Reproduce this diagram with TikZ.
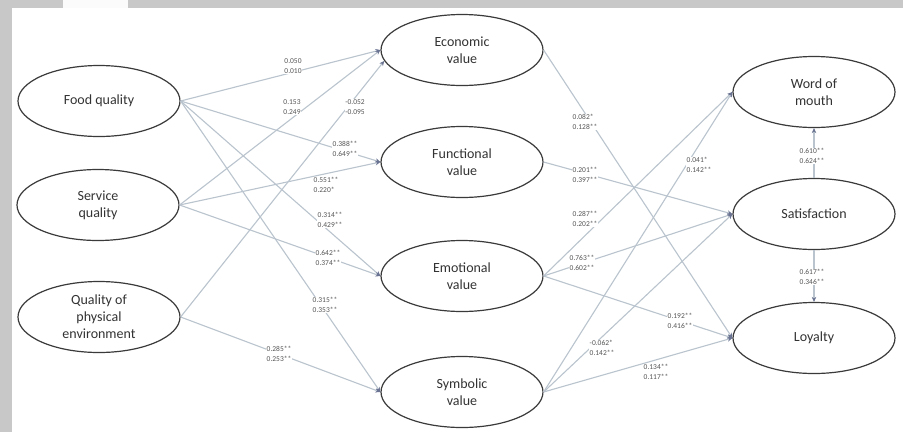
\documentclass[tikz,border=0pt]{standalone}
\usepackage{fontspec}
\setmainfont{Carlito}
\usetikzlibrary{shapes.geometric,arrows.meta}
\definecolor{framegray}{HTML}{C8C8C8}
\definecolor{linec}{HTML}{BAC4CE}
\definecolor{arrowc}{HTML}{6A7492}
\definecolor{ellc}{HTML}{3A3A3A}
\definecolor{labc}{HTML}{555555}
\tikzset{
  latent/.style={ellipse, draw=ellc, line width=1.2pt, minimum width=162pt, minimum height=71pt, inner sep=0pt, align=center, text=black!80, font=\fontsize{14}{17}\selectfont},
  conn/.style={draw=linec, line width=1.1pt, -{Stealth[length=5pt,width=4.5pt,color=arrowc]}},
  coef/.style={fill=white, inner sep=0.6pt, align=left, text=labc, font=\fontsize{7.5}{10}\selectfont},
}
\begin{document}
\begin{tikzpicture}[x=1pt,y=-1pt]
\useasboundingbox (0,0) rectangle (903,432);
\fill[white] (0,0) rectangle (903,432);
\fill[framegray] (0,0) rectangle (12,432);
\fill[framegray] (0,0) rectangle (903,8);
\fill[white!92!framegray] (63,0) rectangle (128,8);

% latent variables
\node[latent] (food) at (99,101) {Food quality};
\node[latent] (service) at (98,205) {Service\\quality};
\node[latent] (phys) at (99,317) {Quality of\\physical\\environment};
\node[latent] (econ) at (462,50) {Economic\\value};
\node[latent] (func) at (462,162) {Functional\\value};
\node[latent] (emo) at (462,276) {Emotional\\value};
\node[latent] (sym) at (462,392) {Symbolic\\value};
\node[latent] (wom) at (814,92) {Word of\\mouth};
\node[latent] (sat) at (814,214) {Satisfaction};
\node[latent] (loy) at (814,338) {Loyalty};

% paths
\draw[conn] (food.east) -- (econ.west);
\draw[conn] (service.east) -- (econ.west);
\draw[conn] (phys.east) -- (econ.188);
\draw[conn] (food.east) -- (func.west);
\draw[conn] (service.east) -- (func.west);
\draw[conn] (food.east) -- (emo.west);
\draw[conn] (service.east) -- (emo.west);
\draw[conn] (food.east) -- (sym.west);
\draw[conn] (phys.east) -- (sym.west);
\draw[conn] (econ.east) -- (loy.west);
\draw[conn] (func.east) -- (sat.west);
\draw[conn] (emo.east) -- (wom.west);
\draw[conn] (emo.east) -- (sat.west);
\draw[conn] (emo.east) -- (loy.west);
\draw[conn] (sym.east) -- (wom.west);
\draw[conn] (sym.east) -- (sat.west);
\draw[conn] (sym.east) -- (loy.west);
\draw[conn] (sat.north) -- (wom.south);
\draw[conn] (sat.south) -- (loy.north);

% coefficients
\node[coef] (c1) at (293,66) {0.050\\0.010};
\node[coef] (c2) at (292,107) {0.153\\0.249};
\node[coef] (c3) at (355,107) {-0.052\\-0.095};
\node[coef] (c4) at (345,149) {0.388**\\0.649**};
\node[coef] (c5) at (326,185) {0.551**\\0.220*};
\node[coef] (c6) at (330,220) {0.314**\\0.429**};
\node[coef] (c7) at (328,258) {0.642**\\0.374**};
\node[coef] (c8) at (325,305) {0.315**\\0.353**};
\node[coef] (c9) at (279,354) {0.285**\\0.253**};
\node[coef] (c10) at (585,122) {0.082*\\0.128**};
\node[coef] (c11) at (585,175) {0.201**\\0.397**};
\node[coef] (c12) at (585,219) {0.287**\\0.202**};
\node[coef] (c13) at (582,263) {0.763**\\0.602**};
\node[coef] (c14) at (680,321) {0.192**\\0.416**};
\node[coef] (c15) at (699,165) {0.041*\\0.142**};
\node[coef] (c16) at (602,348) {-0.062*\\0.142**};
\node[coef] (c17) at (656,372) {0.134**\\0.117**};
\node[coef] (c18) at (812,156) {0.610**\\0.624**};
\node[coef] (c19) at (812,277) {0.617**\\0.346**};
\end{tikzpicture}
\end{document}
